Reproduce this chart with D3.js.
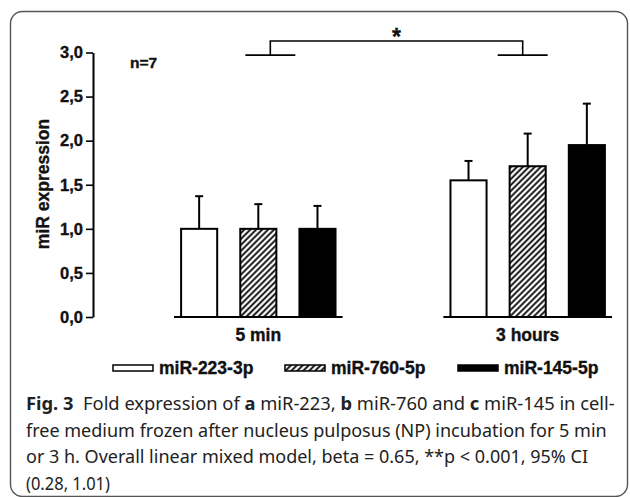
<!DOCTYPE html>
<html>
<head>
<meta charset="utf-8">
<script src="https://cdn.jsdelivr.net/npm/d3@7"></script>
<style>
  body { margin: 0; background: #fff; }
  svg { display: block; }
  .bold { font-family: "Liberation Sans", Arial, sans-serif; font-weight: bold; stroke: #111; stroke-width: 0.35px; }
  .cap { font-family: "Noto Sans", "Open Sans", sans-serif; }
</style>
</head>
<body>
<svg id="chart" width="630" height="497"></svg>
<script>
// chart values
const categories = ["5 min", "3 hours"];
const series = ["miR-223-3p", "miR-760-5p", "miR-145-5p"];
const means5min = [1.0, 1.0, 1.0];
const means3h = [1.55, 1.71, 1.95];
const sd5min = [0.37, 0.28, 0.26];
const sd3h = [0.22, 0.37, 0.47];
const yTicks = [0, 0.5, 1, 1.5, 2, 2.5, 3];
const bracketLevels = [2.97, 3.13];

const meansByCat = [means5min, means3h];
const sdByCat = [sd5min, sd3h];

let svg = d3.select("#chart");

// frame
svg.append("rect")
    .attr("x", 10.5).attr("y", 11.5)
    .attr("width", 617).attr("height", 485)
    .attr("rx", 12)
    .attr("fill", "none")
    .attr("stroke", "#555")
    .attr("stroke-width", 1.4);

// hatch pattern for the middle series
let defs = svg.append("defs");
let pat = defs.append("pattern")
    .attr("id", "hatch")
    .attr("patternUnits", "userSpaceOnUse")
    .attr("width", 4.2).attr("height", 8)
    .attr("patternTransform", "rotate(45)");
pat.append("rect").attr("width", 4.2).attr("height", 8).attr("fill", "#fff");
pat.append("line")
    .attr("x1", 2.1).attr("y1", 0).attr("x2", 2.1).attr("y2", 8)
    .attr("stroke", "#000").attr("stroke-width", 1.8);

const fills = ["#fff", "url(#hatch)", "#000"];

// scales
let y = d3.scaleLinear().domain([0, 3]).range([317, 52.5]);
let x0 = d3.scaleBand().domain(categories).range([174, 612])
    .paddingInner(0.374).paddingOuter(0);
let x1 = d3.scaleBand().domain(series).range([0, x0.bandwidth()])
    .paddingInner(0.39).paddingOuter(0.12);

// y axis
let yAxis = svg.append("g")
    .attr("transform", "translate(93,0)")
    .call(d3.axisLeft(y)
        .tickValues(yTicks)
        .tickSize(7)
        .tickSizeOuter(0)
        .tickPadding(3)
        .tickFormat(d => d3.format(".1f")(d).replace(".", ",")));
yAxis.select(".domain").attr("stroke", "#000").attr("stroke-width", 2);
yAxis.selectAll(".tick line").attr("stroke", "#000").attr("stroke-width", 1.6);
yAxis.selectAll(".tick text")
    .attr("class", "bold")
    .attr("font-size", 16.5)
    .attr("fill", "#111");
yAxis.attr("font-family", null).attr("font-size", null);

// y label
svg.append("text")
    .attr("class", "bold")
    .attr("transform", "translate(49,184) rotate(-90)")
    .attr("text-anchor", "middle")
    .attr("font-size", 17.5)
    .attr("fill", "#111")
    .text("miR expression");

// n label
svg.append("text")
    .attr("class", "bold")
    .attr("x", 130).attr("y", 68)
    .attr("font-size", 15.5)
    .attr("fill", "#111")
    .text("n=7");

// groups
let groups = svg.selectAll(".grp")
    .data(categories)
    .enter().append("g")
    .attr("class", "grp")
    .attr("transform", d => "translate(" + x0(d) + ",0)");

// bars
groups.selectAll(".bar")
    .data((c, i) => series.map((s, j) => ({s: s, j: j, v: meansByCat[i][j], e: sdByCat[i][j]})))
    .enter().append("rect")
    .attr("class", "bar")
    .attr("x", d => x1(d.s))
    .attr("y", d => y(d.v))
    .attr("width", x1.bandwidth())
    .attr("height", d => y(0) - y(d.v))
    .attr("fill", d => fills[d.j])
    .attr("stroke", "#000")
    .attr("stroke-width", 2);

// error bars
let err = groups.selectAll(".err")
    .data((c, i) => series.map((s, j) => ({s: s, j: j, v: meansByCat[i][j], e: sdByCat[i][j]})))
    .enter().append("g")
    .attr("class", "err");
err.append("line")
    .attr("x1", d => x1(d.s) + x1.bandwidth() / 2)
    .attr("x2", d => x1(d.s) + x1.bandwidth() / 2)
    .attr("y1", d => y(d.v))
    .attr("y2", d => y(d.v + d.e))
    .attr("stroke", "#000").attr("stroke-width", 2);
err.append("line")
    .attr("x1", d => x1(d.s) + x1.bandwidth() / 2 - 4)
    .attr("x2", d => x1(d.s) + x1.bandwidth() / 2 + 4)
    .attr("y1", d => y(d.v + d.e))
    .attr("y2", d => y(d.v + d.e))
    .attr("stroke", "#000").attr("stroke-width", 2);

// baselines per group
groups.append("line")
    .attr("x1", 0).attr("x2", x0.bandwidth())
    .attr("y1", y(0)).attr("y2", y(0))
    .attr("stroke", "#000").attr("stroke-width", 2);

// category labels
groups.append("text")
    .attr("class", "bold")
    .attr("x", x0.bandwidth() / 2)
    .attr("y", 341)
    .attr("text-anchor", "middle")
    .attr("font-size", 17.5)
    .attr("fill", "#111")
    .text(d => d);

// significance bracket
let cx1 = x0(categories[0]) + x0.bandwidth() / 2 + 12;
let cx2 = x0(categories[1]) + x0.bandwidth() / 2 - 5;
let br = svg.append("g").attr("stroke", "#000").attr("stroke-width", 1.6).attr("fill", "none");
br.append("line").attr("x1", cx1 - 25).attr("x2", cx1 + 25).attr("y1", y(bracketLevels[0])).attr("y2", y(bracketLevels[0]));
br.append("line").attr("x1", cx2 - 25).attr("x2", cx2 + 25).attr("y1", y(bracketLevels[0])).attr("y2", y(bracketLevels[0]));
br.append("path")
    .attr("d", "M" + cx1 + "," + y(bracketLevels[0]) + "V" + y(bracketLevels[1]) +
        "H" + cx2 + "V" + y(bracketLevels[0]));
svg.append("text")
    .attr("class", "bold")
    .attr("x", (cx1 + cx2) / 2)
    .attr("y", 45)
    .attr("text-anchor", "middle")
    .attr("font-size", 23)
    .attr("fill", "#111")
    .text("*");

// legend
const legendX = [113, 285, 458];
let leg = svg.selectAll(".leg")
    .data(series)
    .enter().append("g")
    .attr("class", "leg")
    .attr("transform", (d, i) => "translate(" + legendX[i] + ",0)");
leg.append("rect")
    .attr("x", 0).attr("y", 365)
    .attr("width", 40).attr("height", 6)
    .attr("fill", (d, i) => fills[i])
    .attr("stroke", "#000").attr("stroke-width", 1.5);
leg.append("text")
    .attr("class", "bold")
    .attr("x", 46).attr("y", 373.5)
    .attr("font-size", 17.5)
    .attr("fill", "#111")
    .text(d => d);

// caption: each line squeezed horizontally to the width it has in the figure
const capLines = [
    [["Fig. 3", true], ["  Fold expression of ", false], ["a", true], [" miR-223, ", false], ["b", true],
     [" miR-760 and ", false], ["c", true], [" miR-145 in cell-", false]],
    [["free medium frozen after nucleus pulposus (NP) incubation for 5 min", false]],
    [["or 3 h. Overall linear mixed model, beta = 0.65, **p < 0.001, 95% CI", false]],
    [["(0.28, 1.01)", false]]
];
const capWidths = [589, 581, 562, 84];
capLines.forEach(function(line, i){
    let t = svg.append("text")
        .attr("class", "cap")
        .attr("x", 0)
        .attr("y", 0)
        .attr("font-size", 18)
        .attr("fill", "#222")
        .style("white-space", "pre");
    line.forEach(function(part){
        t.append("tspan")
            .attr("font-weight", part[1] ? "bold" : "normal")
            .text(part[0]);
    });
    let w = t.node().getComputedTextLength();
    let sx = w > 0 ? capWidths[i] / w : 1;
    t.attr("transform", "translate(26," + (410 + i * 26.5) + ") scale(" + sx + ",1)");
});
</script>
</body>
</html>
